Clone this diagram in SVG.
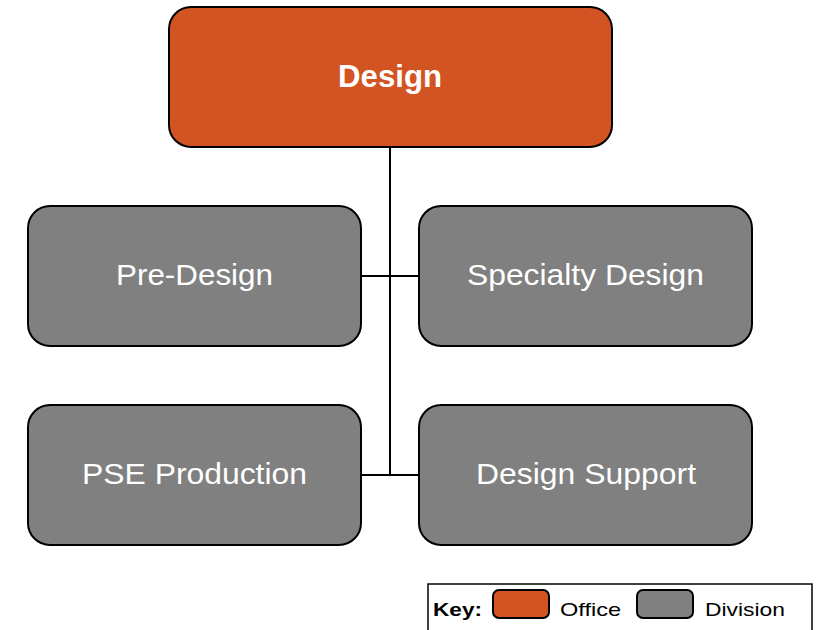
<svg xmlns="http://www.w3.org/2000/svg" width="818" height="630" viewBox="0 0 818 630">
<style>
.box{stroke:#000;stroke-width:2}
.office{fill:#D25422}
.div{fill:#808080}
.t{font-family:"Liberation Sans",Arial,sans-serif;font-size:30px;fill:#fff}
.b{font-weight:bold;font-size:32px}
.k{font-family:"Liberation Sans",Arial,sans-serif;font-size:19px;fill:#000}
.ln{stroke:#000;stroke-width:2;fill:none}
</style>
<rect width="818" height="630" fill="#fff"/>
<g id="connectors">
<line class="ln" x1="390" y1="147" x2="390" y2="476"/>
<line class="ln" x1="361" y1="276" x2="419" y2="276"/>
<line class="ln" x1="361" y1="475" x2="419" y2="475"/>
</g>
<g id="design">
<rect class="box office" x="169" y="7" width="443" height="140" rx="22"/>
<text class="t b" x="338" y="87" textLength="104" lengthAdjust="spacingAndGlyphs">Design</text>
</g>
<g id="pre-design">
<rect class="box div" x="28" y="206" width="333" height="140" rx="22"/>
<text class="t" x="116" y="285" textLength="157" lengthAdjust="spacingAndGlyphs">Pre-Design</text>
</g>
<g id="specialty-design">
<rect class="box div" x="419" y="206" width="333" height="140" rx="22"/>
<text class="t" x="467" y="285" textLength="237" lengthAdjust="spacingAndGlyphs">Specialty Design</text>
</g>
<g id="pse-production">
<rect class="box div" x="28" y="405" width="333" height="140" rx="22"/>
<text class="t" x="82" y="484" textLength="225" lengthAdjust="spacingAndGlyphs">PSE Production</text>
</g>
<g id="design-support">
<rect class="box div" x="419" y="405" width="333" height="140" rx="22"/>
<text class="t" x="476" y="484" textLength="220" lengthAdjust="spacingAndGlyphs">Design Support</text>
</g>
<g id="key">
<rect x="428" y="584" width="384" height="60" fill="#fff" stroke="#000" stroke-width="1.5"/>
<text class="k" font-weight="bold" x="433" y="616" textLength="49" lengthAdjust="spacingAndGlyphs">Key:</text>
<rect class="box office" x="493" y="590" width="56" height="28" rx="6"/>
<text class="k" x="560" y="616" textLength="61" lengthAdjust="spacingAndGlyphs">Office</text>
<rect class="box div" x="637" y="590" width="56" height="28" rx="6"/>
<text class="k" x="705" y="616" textLength="80" lengthAdjust="spacingAndGlyphs">Division</text>
</g>
</svg>
